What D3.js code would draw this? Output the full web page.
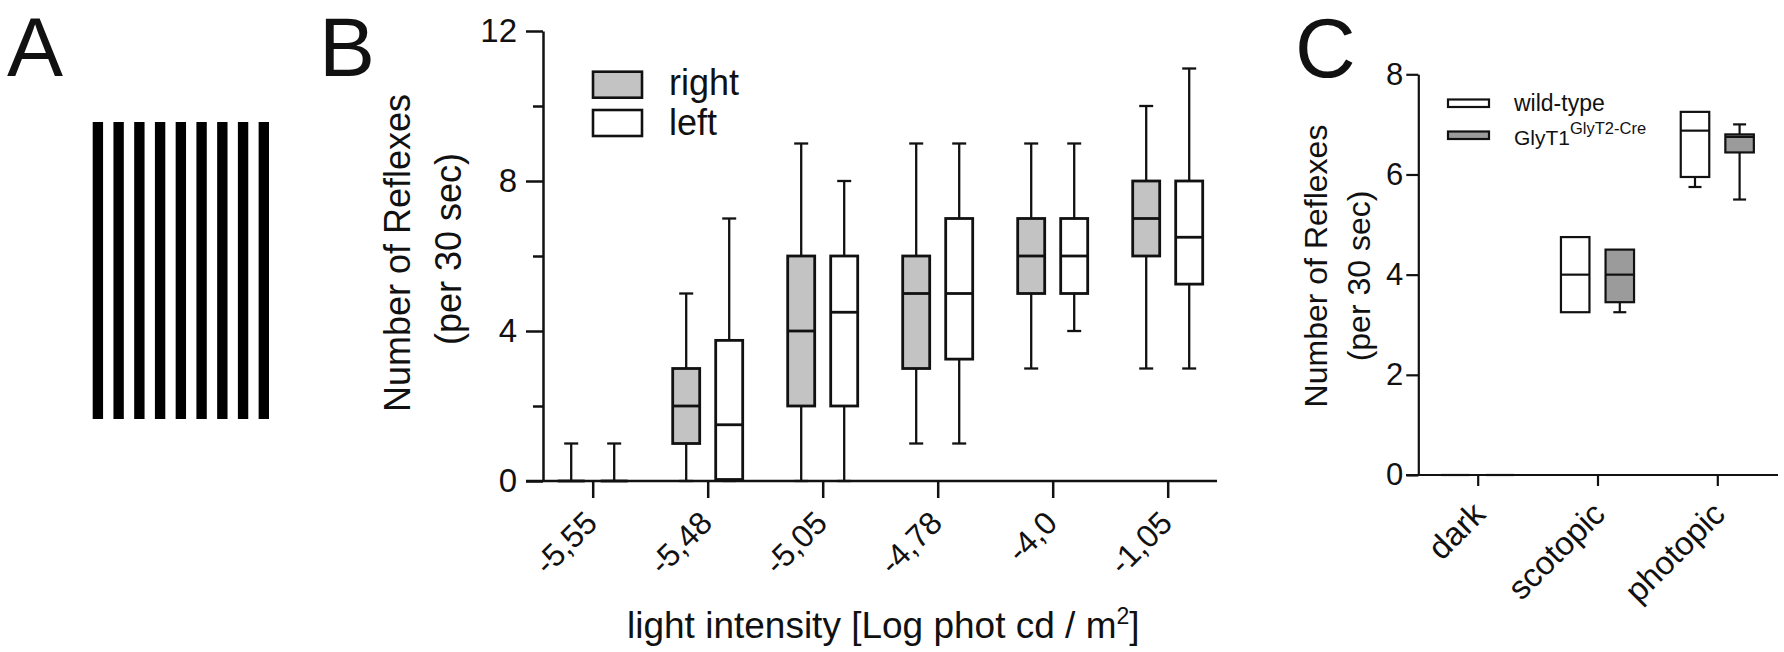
<!DOCTYPE html>
<html lang="en">
  <head>
    <meta charset="utf-8" />
    <script src="https://d3js.org/d3.v7.min.js"></script>
    <style>
      body { margin: 0; background: #fff; }
      svg { display: block; font-family: "Liberation Sans", Arial, sans-serif; }
      text { fill: #111; }
    </style>
  </head>
  <body>
    <script>
      // ---- data ----
      // panel B: light intensities (x categories)
      var intensities = ["-5,55", "-5,48", "-5,05", "-4,78", "-4,0", "-1,05"];
      // [min, q1, median, q3, max] for each intensity
      var rightEye = [
        [0, 0, 0, 0, 1],
        [0, 1, 2, 3, 5],
        [0, 2, 4, 6, 9],
        [1, 3, 5, 6, 9],
        [3, 5, 6, 7, 9],
        [3, 6, 7, 8, 10]
      ];
      var leftEye = [
        [0, 0, 0, 0, 1],
        [0, 0.04, 1.5, 3.75, 7],
        [0, 2, 4.5, 6, 8],
        [1, 3.25, 5, 7, 9],
        [4, 5, 6, 7, 9],
        [3, 5.25, 6.5, 8, 11]
      ];
      var yTicksB = [0, 4, 8, 12];
      var yMinorB = [2, 6, 10];

      // panel C: light conditions
      var conditions = ["dark", "scotopic", "photopic"];
      var wildType = [
        [0, 0, 0, 0, 0],
        [3.25, 3.25, 4, 4.75, 4.75],
        [5.75, 5.95, 6.875, 7.25, 7.25]
      ];
      var glyT1 = [
        [0, 0, 0, 0, 0],
        [3.25, 3.45, 4, 4.5, 4.5],
        [5.5, 6.44, 6.75, 6.8, 7.0]
      ];
      var yTicksC = [0, 2, 4, 6, 8];

      // panel A: number of grating stripes
      var stripeCount = 9;

      var width = 1784,
        height = 652;

      var svg = d3
        .select("body")
        .append("svg")
        .attr("width", width)
        .attr("height", height);

      // panel letters
      function panelLetter(t, x, y) {
        svg.append("text").attr("x", x).attr("y", y)
          .style("font-size", "84px").text(t);
      }
      panelLetter("A", 7, 76);
      panelLetter("B", 319, 76);
      panelLetter("C", 1295, 77);

      // ---- panel A: stripes ----
      var xs = d3.scaleBand()
        .domain(d3.range(stripeCount))
        .range([92.7, 269])
        .paddingInner(0.5)
        .paddingOuter(0);
      svg.append("g")
        .selectAll("rect")
        .data(d3.range(stripeCount))
        .join("rect")
        .attr("x", function (d) { return xs(d); })
        .attr("y", 122)
        .attr("width", xs.bandwidth())
        .attr("height", 297)
        .attr("fill", "#000");

      // generic box drawing
      function drawBoxes(g, data, x, y, offset, boxW, capW, fill, sw, wsw) {
        var grp = g.append("g");
        data.forEach(function (d, i) {
          var cx = x(i) + offset;
          // whiskers
          grp.append("line")
            .attr("x1", cx).attr("x2", cx)
            .attr("y1", y(d[0])).attr("y2", y(d[1]))
            .attr("stroke", "#111").attr("stroke-width", wsw);
          grp.append("line")
            .attr("x1", cx).attr("x2", cx)
            .attr("y1", y(d[3])).attr("y2", y(d[4]))
            .attr("stroke", "#111").attr("stroke-width", wsw);
          if (d[0] < d[1]) {
            grp.append("line")
              .attr("x1", cx - capW / 2).attr("x2", cx + capW / 2)
              .attr("y1", y(d[0])).attr("y2", y(d[0]))
              .attr("stroke", "#111").attr("stroke-width", wsw);
          }
          if (d[4] > d[3]) {
            grp.append("line")
              .attr("x1", cx - capW / 2).attr("x2", cx + capW / 2)
              .attr("y1", y(d[4])).attr("y2", y(d[4]))
              .attr("stroke", "#111").attr("stroke-width", wsw);
          }
          // box
          grp.append("rect")
            .attr("x", cx - boxW / 2)
            .attr("y", y(d[3]))
            .attr("width", boxW)
            .attr("height", Math.max(0, y(d[1]) - y(d[3])))
            .attr("fill", fill)
            .attr("stroke", "#111")
            .attr("stroke-width", sw);
          // median
          grp.append("line")
            .attr("x1", cx - boxW / 2).attr("x2", cx + boxW / 2)
            .attr("y1", y(d[2])).attr("y2", y(d[2]))
            .attr("stroke", "#111").attr("stroke-width", sw);
        });
      }

      // ---- panel B ----
      var yB = d3.scaleLinear().domain([0, 12]).range([481, 31]);
      var xB = d3.scalePoint().domain(d3.range(intensities.length)).range([592.7, 1167.7]);
      var gB = svg.append("g");

      // y axis
      gB.append("g")
        .attr("transform", "translate(543,0)")
        .call(d3.axisLeft(yB).tickValues(yMinorB).tickSize(10).tickFormat(""))
        .call(function (g) { g.select(".domain").remove(); })
        .selectAll("line").attr("stroke", "#111").attr("stroke-width", 2.5);
      var yAxB = gB.append("g")
        .attr("transform", "translate(543,0)")
        .call(d3.axisLeft(yB).tickValues(yTicksB).tickSize(17).tickPadding(9).tickSizeOuter(0));
      yAxB.select(".domain").attr("stroke", "#111").attr("stroke-width", 2.5);
      yAxB.selectAll("line").attr("stroke", "#111").attr("stroke-width", 2.5);
      yAxB.selectAll("text").style("font-size", "33px").attr("fill", "#111");

      // x axis
      var xAxB = gB.append("g")
        .attr("transform", "translate(0,481)")
        .call(d3.axisBottom(xB).tickSize(17).tickFormat(function (i) { return intensities[i]; }));
      xAxB.select(".domain").remove();
      xAxB.selectAll("line").attr("stroke", "#111").attr("stroke-width", 2.5);
      xAxB.selectAll("text")
        .style("font-size", "32px")
        .attr("text-anchor", "end")
        .attr("dy", 0)
        .attr("y", 0)
        .attr("transform", "translate(6,44) rotate(-45)");
      gB.append("line")
        .attr("x1", 526).attr("x2", 1217)
        .attr("y1", yB(0)).attr("y2", yB(0))
        .attr("stroke", "#111").attr("stroke-width", 2.5);

      drawBoxes(gB, rightEye, xB, yB, -21.5, 27, 14, "#c3c3c3", 2.8, 2.3);
      drawBoxes(gB, leftEye, xB, yB, 21.5, 27, 14, "#ffffff", 2.8, 2.3);

      // y title
      var tyB = gB.append("text")
        .attr("transform", "translate(410,253) rotate(-90)")
        .attr("text-anchor", "middle")
        .style("font-size", "36px");
      tyB.append("tspan").attr("x", 0).attr("y", 0).text("Number of Reflexes");
      tyB.append("tspan").attr("x", 4).attr("y", 51).text("(per 30 sec)");

      // x title
      var txB = gB.append("text")
        .attr("x", 627).attr("y", 638)
        .style("font-size", "37px");
      txB.append("tspan").text("light intensity [Log phot cd / m");
      txB.append("tspan").attr("dy", -14).style("font-size", "23px").text("2");
      txB.append("tspan").attr("dy", 14).text("]");

      // legend
      var legB = [
        { label: "right", fill: "#c3c3c3", y: 71.7, ty: 95 },
        { label: "left", fill: "#ffffff", y: 110, ty: 135 }
      ];
      legB.forEach(function (l) {
        gB.append("rect").attr("x", 593).attr("y", l.y)
          .attr("width", 49).attr("height", 26)
          .attr("fill", l.fill).attr("stroke", "#111").attr("stroke-width", 2.6);
        gB.append("text").attr("x", 669).attr("y", l.ty)
          .style("font-size", "36px").text(l.label);
      });

      // ---- panel C ----
      var yC = d3.scaleLinear().domain([0, 8]).range([475, 74.3]);
      var xC = d3.scalePoint().domain(d3.range(conditions.length)).range([1477.7, 1717.3]);
      var gC = svg.append("g");

      var yAxC = gC.append("g")
        .attr("transform", "translate(1418.3,0)")
        .call(d3.axisLeft(yC).tickValues(yTicksC).tickSize(12).tickPadding(3).tickSizeOuter(0));
      yAxC.select(".domain").attr("stroke", "#111").attr("stroke-width", 2.2);
      yAxC.selectAll("line").attr("stroke", "#111").attr("stroke-width", 2.2);
      yAxC.selectAll("text").style("font-size", "31px").attr("fill", "#111");

      var xAxC = gC.append("g")
        .attr("transform", "translate(0,475)")
        .call(d3.axisBottom(xC).tickSize(11).tickFormat(function (i) { return conditions[i]; }));
      xAxC.select(".domain").remove();
      xAxC.selectAll("line").attr("stroke", "#111").attr("stroke-width", 2.2);
      xAxC.selectAll("text")
        .style("font-size", "33px")
        .attr("text-anchor", "end")
        .attr("dy", 0)
        .attr("y", 0)
        .attr("transform", "translate(9,41) rotate(-45)");
      gC.append("line")
        .attr("x1", 1406).attr("x2", 1778)
        .attr("y1", yC(0)).attr("y2", yC(0))
        .attr("stroke", "#111").attr("stroke-width", 2.2);

      drawBoxes(gC, wildType, xC, yC, -22.3, 28.5, 13, "#ffffff", 2.2, 2.2);
      drawBoxes(gC, glyT1, xC, yC, 22.3, 28.5, 13, "#9b9b9b", 2.2, 2.2);

      var tyC = gC.append("text")
        .attr("transform", "translate(1327,266) rotate(-90)")
        .attr("text-anchor", "middle")
        .style("font-size", "32px");
      tyC.append("tspan").attr("x", 0).attr("y", 0).text("Number of Reflexes");
      tyC.append("tspan").attr("x", -10).attr("y", 43).text("(per 30 sec)");

      // legend C
      gC.append("rect").attr("x", 1448).attr("y", 99.5)
        .attr("width", 41).attr("height", 7.5)
        .attr("fill", "#fff").attr("stroke", "#111").attr("stroke-width", 2.2);
      gC.append("rect").attr("x", 1448).attr("y", 131.5)
        .attr("width", 41).attr("height", 7.5)
        .attr("fill", "#9b9b9b").attr("stroke", "#111").attr("stroke-width", 2.2);
      gC.append("text").attr("x", 1514).attr("y", 111)
        .style("font-size", "23px").text("wild-type");
      var gl = gC.append("text").attr("x", 1514).attr("y", 145)
        .style("font-size", "21px");
      gl.append("tspan").text("GlyT1");
      gl.append("tspan").attr("dy", -11).style("font-size", "16.5px").text("GlyT2-Cre");
    </script>
  </body>
</html>
